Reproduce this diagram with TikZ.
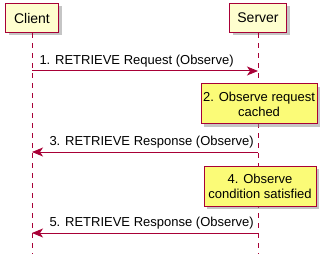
\documentclass[tikz,border=0pt]{standalone}
\usepackage{fontspec}
\setmainfont{Liberation Sans}
\usetikzlibrary{positioning, shadows, arrows.meta}

\definecolor{umlred}{HTML}{A80036}
\definecolor{partfill}{HTML}{FEFECE}
\definecolor{notefill}{HTML}{FBFB77}

\begin{document}
\begin{tikzpicture}[x=1pt, y=-1pt, line width=1pt]
	\tikzstyle{actor} = [draw=umlred, fill=partfill, line width=1.3pt, inner sep=0pt, minimum height=29pt, font=\fontsize{14}{16}\selectfont, drop shadow={shadow xshift=3pt, shadow yshift=-3pt, fill=black!45, opacity=0.5}];
	\tikzstyle{note} = [draw=umlred, fill=notefill, line width=1pt, inner sep=0pt, minimum height=40pt, align=center, font=\fontsize{13}{15}\selectfont, drop shadow={shadow xshift=3pt, shadow yshift=-3pt, fill=black!45, opacity=0.5}];
	\tikzstyle{life} = [draw=umlred, line width=0.8pt, dash pattern=on 5pt off 5pt];
	\tikzstyle{msg} = [draw=umlred, line width=1pt, -{Stealth[length=11pt, width=9pt, inset=3pt]}];
	\tikzstyle{lbl} = [inner sep=0pt, font=\fontsize{13}{15}\selectfont];

	\useasboundingbox (0,0) rectangle (328,264);

	\node[actor, minimum width=53pt] (client) at (32,18) {Client};
	\node[actor, minimum width=57pt] (server) at (258,18) {Server};

	\def \yend {254}
	\coordinate (clientend) at (client.center |- 0,\yend);
	\coordinate (serverend) at (server.center |- 0,\yend);
	\draw[life] (client.south) -- (clientend);
	\draw[life] (server.south) -- (serverend);

	% message rows on the two lifelines
	\foreach \i/\y in {1/71, 3/152, 5/233}
	{
		\coordinate (c\i) at (client.center |- 0,\y);
		\coordinate (s\i) at (server.center |- 0,\y);
	}

	\draw[msg] (c1) -- (s1);
	\node[lbl, above right = 3pt and 7pt of c1] (m1) {1. RETRIEVE Request (Observe)};

	\node[note, minimum width=116pt] (n2) at (259,104) {2. Observe request\\cached};

	\draw[msg] (s3) -- (c3);
	\node[lbl, above right = 3pt and 17pt of c3] (m3) {3. RETRIEVE Response (Observe)};

	\node[note, minimum width=112pt] (n4) at (260,186) {4. Observe\\condition satisfied};

	\draw[msg] (s5) -- (c5);
	\node[lbl, above right = 3pt and 17pt of c5] (m5) {5. RETRIEVE Response (Observe)};

\end{tikzpicture}
\end{document}
